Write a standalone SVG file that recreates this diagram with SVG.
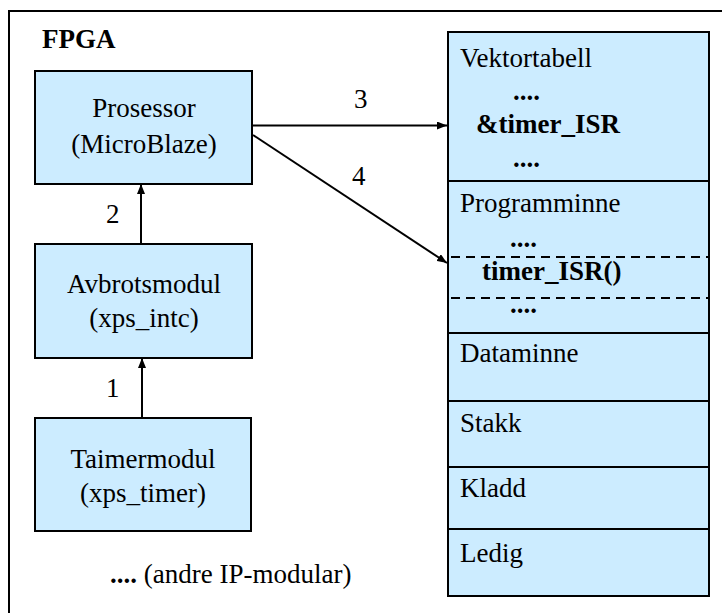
<svg xmlns="http://www.w3.org/2000/svg" width="722" height="613" viewBox="0 0 722 613">
  <style>
    text { font-family: 'Liberation Serif', Tinos, 'Times New Roman', 'DejaVu Serif', 'Noto Serif', serif; font-size: 27px; fill: #000; }
    .b { font-weight: bold; }
    .c { text-anchor: middle; }
    .box { fill: #CCECFF; stroke: #000; stroke-width: 2; }
    .div { stroke: #000; stroke-width: 2; fill: none; }
    .dash { stroke: #000; stroke-width: 2; stroke-dasharray: 9 6; fill: none; }
    .wire { stroke: #000; stroke-width: 2; fill: none; }
  </style>
  <defs>
    <marker id="arrow" viewBox="0 0 10 8" refX="10" refY="4" markerWidth="10" markerHeight="8" markerUnits="userSpaceOnUse" orient="auto">
      <path d="M0,0 L10,4 L0,8 Z" fill="#000"/>
    </marker>
  </defs>

  <!-- FPGA frame (continues past the lower and right edges) -->
  <g id="fpga">
    <rect x="9" y="11" width="800" height="700" fill="#fff" stroke="#000" stroke-width="2"/>
    <text class="b" x="42" y="48">FPGA</text>
  </g>

  <g id="prosessor">
    <rect class="box" x="35" y="71" width="217" height="113"/>
    <text class="c" x="144" y="117">Prosessor</text>
    <text class="c" x="144" y="153">(MicroBlaze)</text>
  </g>

  <g id="avbrotsmodul">
    <rect class="box" x="35" y="244" width="217" height="114"/>
    <text class="c" x="144" y="293">Avbrotsmodul</text>
    <text class="c" x="144" y="327">(xps_intc)</text>
  </g>

  <g id="taimermodul">
    <rect class="box" x="35" y="418" width="216" height="113"/>
    <text class="c" x="143" y="468">Taimermodul</text>
    <text class="c" x="143" y="502">(xps_timer)</text>
  </g>

  <g id="andre">
    <text x="110" y="583"><tspan class="b">....</tspan> (andre IP-modular)</text>
  </g>

  <!-- Memory map -->
  <g id="minne">
    <rect class="box" x="448" y="32" width="261" height="564"/>
    <line class="div" x1="448" y1="181" x2="709" y2="181"/>
    <line class="div" x1="448" y1="333" x2="709" y2="333"/>
    <line class="div" x1="448" y1="401" x2="709" y2="401"/>
    <line class="div" x1="448" y1="467" x2="709" y2="467"/>
    <line class="div" x1="448" y1="529" x2="709" y2="529"/>
    <line class="dash" x1="451" y1="257" x2="709" y2="257"/>
    <line class="dash" x1="451" y1="298" x2="709" y2="298"/>

    <text x="460" y="67">Vektortabell</text>
    <text class="b" x="513" y="100">....</text>
    <text class="b" x="476" y="133">&amp;timer_ISR</text>
    <text class="b" x="513" y="167">....</text>

    <text x="460" y="212">Programminne</text>
    <text class="b" x="510" y="247">....</text>
    <text class="b" x="482" y="280">timer_ISR()</text>
    <text class="b" x="510" y="313">....</text>

    <text x="460" y="362">Dataminne</text>
    <text x="460" y="432">Stakk</text>
    <text x="460" y="497">Kladd</text>
    <text x="460" y="562">Ledig</text>
  </g>

  <!-- Connectors -->
  <g id="connectors">
    <line class="wire" x1="142" y1="418" x2="142" y2="358" marker-end="url(#arrow)"/>
    <line class="wire" x1="141" y1="244" x2="141" y2="184" marker-end="url(#arrow)"/>
    <line class="wire" x1="252" y1="125.5" x2="447" y2="125.5" marker-end="url(#arrow)"/>
    <line class="wire" x1="253" y1="135" x2="447" y2="263" marker-end="url(#arrow)"/>
    <text x="106" y="397">1</text>
    <text x="106" y="223">2</text>
    <text x="354" y="108">3</text>
    <text x="352" y="185">4</text>
  </g>
</svg>
